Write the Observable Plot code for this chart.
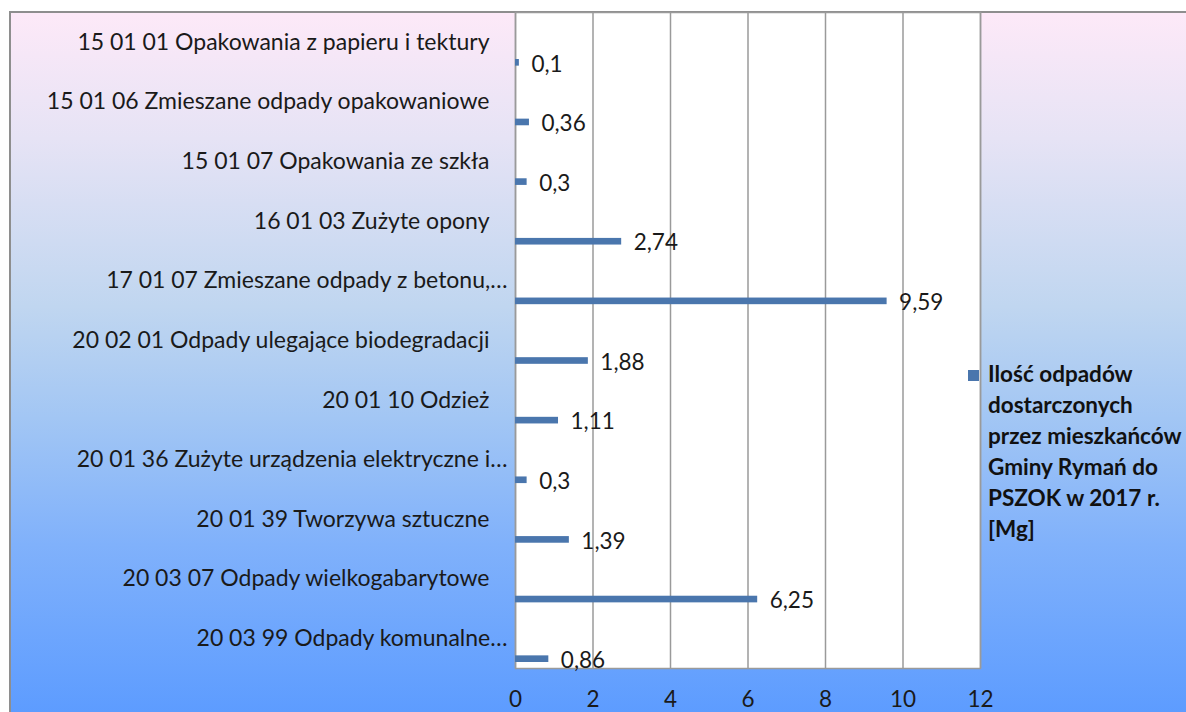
<!DOCTYPE html>
<html>
<head>
<meta charset="utf-8">
<script src="https://cdn.jsdelivr.net/npm/d3@7"></script>
<script src="https://cdn.jsdelivr.net/npm/@observablehq/plot@0.6"></script>
<style>
  html, body { margin: 0; padding: 0; width: 1186px; height: 712px; overflow: hidden; background: #fff; }
  #bg { position: absolute; left: 9px; top: 11px; width: 1177px; height: 701px;
        border-left: 2px solid #8e8e8e; border-top: 2px solid #8e8e8e; box-sizing: border-box;
        background: linear-gradient(to bottom, #fde9f8 0%, #e6e3f5 18%, #c0d6f0 42%, #a2c6f4 58%, #80b1fb 76%, #5d9cff 100%); }
  #chart { position: absolute; left: 0; top: 0; }
  #legend { position: absolute; left: 968px; top: 358px; font-family: Lato, sans-serif; font-weight: bold;
            font-size: 22.5px; line-height: 31px; color: #111; white-space: nowrap; }
  #legend .sw { position: absolute; left: 0; top: 12px; width: 11px; height: 11px; background: #4a76ad; }
  #legend .tx { position: absolute; left: 20px; top: 0; }
</style>
</head>
<body>
<div id="bg"></div>
<div id="chart"></div>
<div id="legend"><div class="sw"></div><div class="tx">Ilość odpadów<br>dostarczonych<br>przez mieszkańców<br>Gminy Rymań do<br>PSZOK w 2017 r.<br>[Mg]</div></div>
<script>
const categories = [
  "15 01 01 Opakowania z papieru i tektury",
  "15 01 06 Zmieszane odpady opakowaniowe",
  "15 01 07 Opakowania ze szkła",
  "16 01 03 Zużyte opony",
  "17 01 07 Zmieszane odpady z betonu,…",
  "20 02 01 Odpady ulegające biodegradacji",
  "20 01 10 Odzież",
  "20 01 36 Zużyte urządzenia elektryczne i…",
  "20 01 39 Tworzywa sztuczne",
  "20 03 07 Odpady wielkogabarytowe",
  "20 03 99 Odpady komunalne…"
];
const values = [0.1, 0.36, 0.3, 2.74, 9.59, 1.88, 1.11, 0.3, 1.39, 6.25, 0.86];
const valueLabels = ["0,1", "0,36", "0,3", "2,74", "9,59", "1,88", "1,11", "0,3", "1,39", "6,25", "0,86"];
const xTicks = [0, 2, 4, 6, 8, 10, 12];
const seriesName = "Ilość odpadów dostarczonych przez mieszkańców Gminy Rymań do PSZOK w 2017 r. [Mg]";

const data = categories.map((c, i) => ({category: c, value: values[i], label: valueLabels[i]}));
const truncated = data.filter(d => d.category.endsWith("…"));
const full = data.filter(d => !d.category.endsWith("…"));

const font = "Lato, sans-serif";
const ink = "#1a1a1a";
const chart = Plot.plot({
  width: 1186,
  height: 712,
  marginLeft: 515,
  marginRight: 206,
  marginTop: 12,
  marginBottom: 44,
  style: {background: "transparent", fontFamily: font, fontSize: "22px", color: ink, overflow: "visible"},
  x: {domain: [0, 12], ticks: xTicks, label: null},
  y: {domain: categories, padding: 0, round: false, label: null, axis: null},
  marks: [
    Plot.frame({fill: "white", stroke: "none"}),
    Plot.gridX(xTicks, {stroke: "#9a9a9a", strokeOpacity: 1, strokeWidth: 1.5}),
    Plot.frame({stroke: "#9a9a9a", strokeWidth: 1.5}),
    Plot.barX(data, {x: "value", y: "category", fill: "#4a76ad", insetTop: 47, insetBottom: 6}),
    Plot.text(data, {x: "value", y: "category", text: "label", textAnchor: "start", dx: 12, dy: 22, fontSize: 22.5, fill: ink}),
    Plot.text(full, {y: "category", text: "category", frameAnchor: "left", textAnchor: "end", dx: -26, dy: 0, fontSize: 23, fill: ink}),
    Plot.text(truncated, {y: "category", text: "category", frameAnchor: "left", textAnchor: "end", dx: -8, dy: 0, fontSize: 23, fill: ink}),
    Plot.axisX(xTicks, {tickSize: 0, tickPadding: 23, fontSize: 22.5, fill: ink, tickFormat: d => String(d)})
  ]
});
chart.setAttribute("aria-label", seriesName);
document.getElementById("chart").appendChild(chart);
</script>
</body>
</html>
